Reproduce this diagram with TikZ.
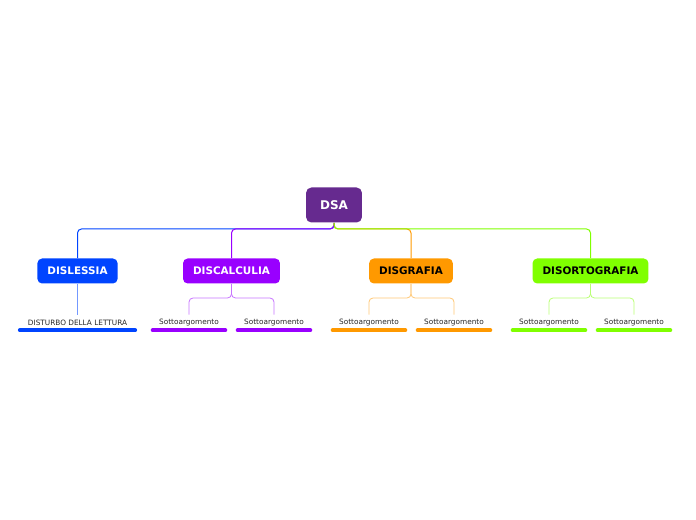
\documentclass[tikz,border=0pt]{standalone}
\usepackage{fontspec}
\setmainfont{DejaVu Sans}

\definecolor{dsapurple}{RGB}{102,42,143}
\definecolor{dslblue}{RGB}{0,68,255}
\definecolor{dscpurple}{RGB}{153,0,255}
\definecolor{dsgorange}{RGB}{255,153,0}
\definecolor{dsogreen}{RGB}{128,255,0}

\begin{document}
\begin{tikzpicture}[
	x=0.75pt, y=-0.75pt,
	central/.style={ rounded corners=4pt, fill=dsapurple, text=white, font=\bfseries\fontsize{9}{10}\selectfont, inner xsep=10.5pt, minimum height=26.25pt },
	topic/.style={ rounded corners=3.5pt, font=\bfseries\fontsize{7.8}{9}\selectfont, inner xsep=7.5pt, minimum height=18.75pt },
	subtopic/.style={ font=\fontsize{5.5}{6.5}\selectfont, text=black!85, inner sep=0pt, minimum width=54pt, minimum height=11.25pt },
	bar/.style={ line width=3pt, line cap=round },
	link/.style={ line width=0.75pt, rounded corners=3pt },
	sublink/.style={ line width=0.6pt, rounded corners=3pt }
]
\useasboundingbox (0,0) rectangle (696,520);

\node at (334,205) (dsa) [central] {DSA};
\coordinate (hub) at (334,229);

\node at (77.5,271) (dsl) [topic,fill=dslblue,text=white] {DISLESSIA};
\node at (231.5,271) (dsc) [topic,fill=dscpurple,text=white] {DISCALCULIA};
\node at (411,271) (dsg) [topic,fill=dsgorange,text=black] {DISGRAFIA};
\node at (590.5,271) (dso) [topic,fill=dsogreen,text=black] {DISORTOGRAFIA};

\draw[link,dslblue] (dsa.south) -- (hub) -| (dsl.north);
\draw[link,dscpurple] (dsa.south) -- (hub) -| (dsc.north);
\draw[link,dsgorange] (dsa.south) -- (hub) -| (dsg.north);
\draw[link,dsogreen] (dsa.south) -- (hub) -| (dso.north);

% dislessia
\node at (77.5,322.5) (dsl1) [subtopic,minimum width=86pt] {DISTURBO DELLA LETTURA};
\draw[sublink,dslblue!55] (dsl.south) -- (dsl1.north);
\draw[bar,dslblue] (dsl1.south west) -- (dsl1.south east);

% discalculia
\coordinate (dschub) at (231.5,298);
\node at (189,322.5) (dsc1) [subtopic] {Sottoargomento};
\node at (274,322.5) (dsc2) [subtopic] {Sottoargomento};
\draw[sublink,dscpurple!55] (dsc.south) -- (dschub) -| (dsc1.north);
\draw[sublink,dscpurple!55] (dsc.south) -- (dschub) -| (dsc2.north);
\draw[bar,dscpurple] (dsc1.south west) -- (dsc1.south east);
\draw[bar,dscpurple] (dsc2.south west) -- (dsc2.south east);

% disgrafia
\coordinate (dsghub) at (411,298);
\node at (369,322.5) (dsg1) [subtopic] {Sottoargomento};
\node at (454,322.5) (dsg2) [subtopic] {Sottoargomento};
\draw[sublink,dsgorange!55] (dsg.south) -- (dsghub) -| (dsg1.north);
\draw[sublink,dsgorange!55] (dsg.south) -- (dsghub) -| (dsg2.north);
\draw[bar,dsgorange] (dsg1.south west) -- (dsg1.south east);
\draw[bar,dsgorange] (dsg2.south west) -- (dsg2.south east);

% disortografia
\coordinate (dsohub) at (590.5,298);
\node at (549,322.5) (dso1) [subtopic] {Sottoargomento};
\node at (634,322.5) (dso2) [subtopic] {Sottoargomento};
\draw[sublink,dsogreen!55] (dso.south) -- (dsohub) -| (dso1.north);
\draw[sublink,dsogreen!55] (dso.south) -- (dsohub) -| (dso2.north);
\draw[bar,dsogreen] (dso1.south west) -- (dso1.south east);
\draw[bar,dsogreen] (dso2.south west) -- (dso2.south east);

\end{tikzpicture}
\end{document}
